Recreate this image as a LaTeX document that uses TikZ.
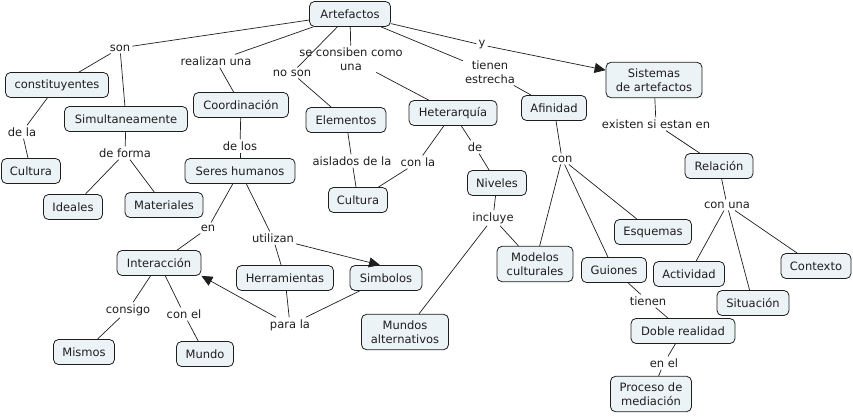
\documentclass[tikz,border=0pt]{standalone}
\usepackage{fontspec}
\setmainfont{DejaVu Sans}
\usetikzlibrary{arrows.meta}
\definecolor{boxfill}{RGB}{236,243,246}
\definecolor{ink}{RGB}{30,30,30}
\begin{document}
\begin{tikzpicture}[x=1pt,y=-1pt, font=\fontsize{11.5}{13.5}\selectfont, text=ink,
  concept/.style={draw=ink, fill=boxfill, rounded corners=5pt, line width=0.8pt,
    inner xsep=5pt, inner ysep=6.5pt, minimum height=25pt, align=center},
  lbl/.style={inner sep=2pt, align=center},
  link/.style={line width=0.7pt, draw=ink},
  arr/.style={link, -{Triangle[length=11pt,width=10pt]}}]
\useasboundingbox (0,0) rectangle (853,416);
% concepts
\node[concept, minimum width=81pt] (Artefactos) at (350,14) {Artefactos};
\node[concept, minimum width=103pt] (Constit) at (57,85) {constituyentes};
\node[concept, minimum width=123pt] (Simult) at (126,119) {Simultaneamente};
\node[concept, minimum width=59pt] (CulturaA) at (31,171) {Cultura};
\node[concept, minimum width=59pt] (Ideales) at (73,207) {Ideales};
\node[concept, minimum width=78pt] (Materiales) at (164,205) {Materiales};
\node[concept, minimum width=95pt] (Coord) at (241,105) {Coordinación};
\node[concept, minimum width=110pt] (Seres) at (240,171) {Seres humanos};
\node[concept, minimum width=80pt] (Elementos) at (346,120) {Elementos};
\node[concept, minimum width=59pt] (CulturaB) at (358,200) {Cultura};
\node[concept, minimum width=88pt] (Heter) at (453,113) {Heterarquía};
\node[concept, minimum width=59pt] (Niveles) at (497,183) {Niveles};
\node[concept, minimum width=65pt] (Afinidad) at (554,108) {Afinidad};
\node[concept, minimum width=96pt] (Sistemas) at (654,80) {Sistemas\\de artefactos};
\node[concept, minimum width=68pt] (Relacion) at (719,166) {Relación};
\node[concept, minimum width=84pt] (Interaccion) at (159,263) {Interacción};
\node[concept, minimum width=97pt] (Herram) at (285,278) {Herramientas};
\node[concept, minimum width=72pt] (Simbolos) at (386,278) {Simbolos};
\node[concept, minimum width=61pt] (Mismos) at (84,352) {Mismos};
\node[concept, minimum width=57pt] (Mundo) at (205,354) {Mundo};
\node[concept, minimum width=87pt] (MundosAlt) at (405,332) {Mundos\\alternativos};
\node[concept, minimum width=76pt] (Modelos) at (535,264) {Modelos\\culturales};
\node[concept, minimum width=77pt] (Esquemas) at (653,232) {Esquemas};
\node[concept, minimum width=65pt] (Guiones) at (614,270) {Guiones};
\node[concept, minimum width=71pt] (Actividad) at (689,274) {Actividad};
\node[concept, minimum width=72pt] (Situacion) at (753,303) {Situación};
\node[concept, minimum width=70pt] (Contexto) at (816,266) {Contexto};
\node[concept, minimum width=104pt] (Doble) at (683,331) {Doble realidad};
\node[concept, minimum width=81pt] (Proceso) at (651,394) {Proceso de\\mediación};
% labels
\node[lbl] (son) at (120,48) {son};
\node[lbl] (realizan) at (216,61) {realizan una};
\node[lbl] (noson) at (292,73) {no son};
\node[lbl] (consiben) at (351,59) {se consiben como\\una};
\node[lbl] (y) at (482,45) {y};
\node[lbl] (tienenE) at (490,72) {tienen\\estrecha};
\node[lbl] (dela) at (22,132) {de la};
\node[lbl] (deforma) at (125,153) {de forma};
\node[lbl] (delos) at (240,146) {de los};
\node[lbl] (aislados) at (352,161) {aislados de la};
\node[lbl] (conla) at (418,162) {con la};
\node[lbl] (de) at (475,147) {de};
\node[lbl] (con) at (562,159) {con};
\node[lbl] (existen) at (656,124) {existen si estan en};
\node[lbl] (conuna) at (727,205) {con una};
\node[lbl] (en) at (208,228) {en};
\node[lbl] (utilizan) at (273,238) {utilizan};
\node[lbl] (incluye) at (493,218) {incluye};
\node[lbl] (consigo) at (128,310) {consigo};
\node[lbl] (conel) at (184,314) {con el};
\node[lbl] (parala) at (290,325) {para la};
\node[lbl] (tienen) at (648,301) {tienen};
\node[lbl] (enel) at (664,363) {en el};
% links
\draw[link] (Artefactos) -- (son);
\draw[link] (son) -- (Constit);
\draw[link] (son) -- (Simult);
\draw[link] (Artefactos) -- (realizan);
\draw[link] (realizan) -- (Coord);
\draw[link] (Artefactos) -- (noson);
\draw[link] (noson) -- (Elementos);
\draw[link] (Artefactos) -- (consiben);
\draw[link] (consiben) -- (Heter);
\draw[link] (Artefactos) -- (tienenE);
\draw[link] (tienenE) -- (Afinidad);
\draw[link] (Artefactos) -- (y);
\draw[arr] (y) -- (Sistemas);
\draw[link] (Constit) -- (dela);
\draw[link] (dela) -- (CulturaA);
\draw[link] (Simult) -- (deforma);
\draw[link] (deforma) -- (Ideales);
\draw[link] (deforma) -- (Materiales);
\draw[link] (Coord) -- (delos);
\draw[link] (delos) -- (Seres);
\draw[link] (Seres) -- (en);
\draw[link] (en) -- (Interaccion);
\draw[link] (Seres) -- (utilizan);
\draw[link] (utilizan) -- (Herram);
\draw[arr] (utilizan) -- ([xshift=-6pt]Simbolos.north);
\draw[link] (Elementos) -- (aislados);
\draw[link] (aislados) -- (CulturaB);
\draw[link] (Heter) -- (conla);
\draw[link] (conla) -- (CulturaB);
\draw[link] (Heter) -- (de);
\draw[link] (de) -- (Niveles);
\draw[link] (Niveles) -- (incluye);
\draw[link] (incluye) -- (MundosAlt);
\draw[link] (incluye) -- (Modelos);
\draw[link] (Afinidad) -- (con);
\draw[link] (con) -- (Modelos);
\draw[link] (con) -- (Guiones);
\draw[link] (con) -- (Esquemas);
\draw[link] (Sistemas) -- (existen);
\draw[link] (existen) -- (Relacion);
\draw[link] (Relacion) -- (conuna);
\draw[link] (conuna) -- (Actividad);
\draw[link] (conuna) -- (Situacion);
\draw[link] (conuna) -- (Contexto);
\draw[link] (Interaccion) -- (consigo);
\draw[link] (consigo) -- (Mismos);
\draw[link] (Interaccion) -- (conel);
\draw[link] (conel) -- (Mundo);
\draw[link] (Herram) -- (parala);
\draw[link] (Simbolos) -- (parala);
\draw[arr] (parala) -- (Interaccion.south east);
\draw[link] (Guiones) -- (tienen);
\draw[link] (tienen) -- (Doble);
\draw[link] (Doble) -- (enel);
\draw[link] (enel) -- (Proceso);
\end{tikzpicture}
\end{document}
